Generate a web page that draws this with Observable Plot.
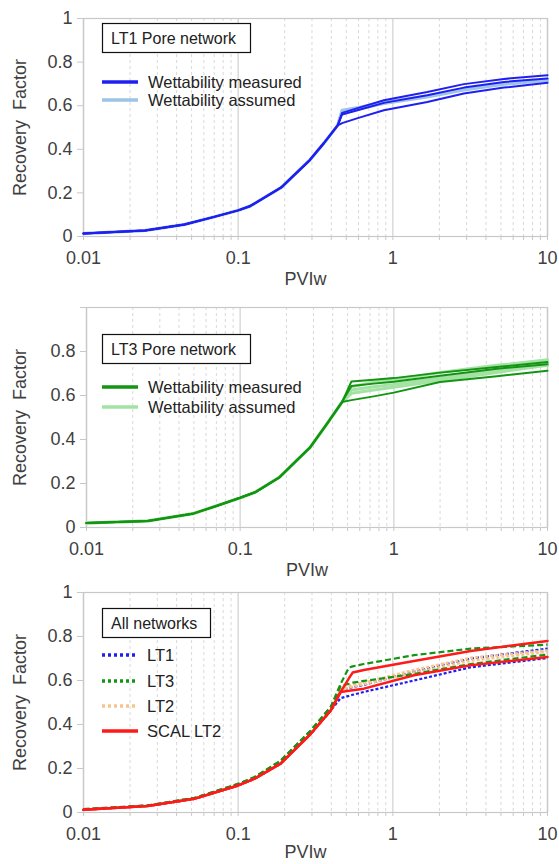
<!DOCTYPE html>
<html><head><meta charset="utf-8">
<script src="https://cdn.jsdelivr.net/npm/d3@7"></script>
<script src="https://cdn.jsdelivr.net/npm/@observablehq/plot@0.6"></script>
<style>
body{margin:0;background:#fff;font-family:"Liberation Sans",Arial,sans-serif;}
.panel{position:relative;width:559px;overflow:visible;}
.panel svg{overflow:visible;}
.panel svg.leg{position:absolute;left:0;top:0;pointer-events:none;}
</style></head><body><div id="root"></div>
<script>
// ---------- axis definitions ----------
const xMajor = [0.01, 0.1, 1, 10];
const xTickLabels = ["0.01", "0.1", "1", "10"];
const yTicks = [0, 0.2, 0.4, 0.6, 0.8, 1];
const yTickLabels = ["0", "0.2", "0.4", "0.6", "0.8", "1"];
const xLabel = "PVIw";
const yLabel = "Recovery  Factor";

// ---------- Panel 1: LT1 pore network ----------
const pviLT1 = [0.01, 0.025, 0.045, 0.07, 0.1, 0.12, 0.19, 0.29, 0.36, 0.44, 0.47, 0.6, 0.875, 1.67, 2.88, 5.23, 10];
const lt1Measured = [
  [0.014, 0.028, 0.055, 0.09, 0.12, 0.14, 0.225, 0.35, 0.43, 0.51, 0.52, 0.544, 0.579, 0.617, 0.656, 0.683, 0.705],
  [0.014, 0.028, 0.055, 0.09, 0.12, 0.14, 0.225, 0.35, 0.43, 0.51, 0.56, 0.58, 0.613, 0.648, 0.683, 0.709, 0.725],
  [0.014, 0.028, 0.055, 0.09, 0.12, 0.14, 0.225, 0.35, 0.43, 0.51, 0.567, 0.59, 0.625, 0.663, 0.699, 0.723, 0.74]
];
const lt1Assumed = [
  [0.014, 0.028, 0.055, 0.09, 0.12, 0.14, 0.225, 0.35, 0.43, 0.51, 0.579, 0.592, 0.617, 0.645, 0.678, 0.703, 0.72],
  [0.014, 0.028, 0.055, 0.09, 0.12, 0.14, 0.225, 0.35, 0.43, 0.51, 0.575, 0.585, 0.61, 0.64, 0.672, 0.698, 0.715]
];

// ---------- Panel 2: LT3 pore network ----------
const pviLT3 = [0.01, 0.025, 0.05, 0.07, 0.1, 0.125, 0.18, 0.286, 0.367, 0.46, 0.53, 0.74, 1.0, 2.0, 4.68, 10];
const lt3Measured = [
  [0.02, 0.03, 0.064, 0.098, 0.135, 0.16, 0.228, 0.365, 0.471, 0.57, 0.579, 0.596, 0.613, 0.661, 0.688, 0.713],
  [0.02, 0.03, 0.064, 0.098, 0.135, 0.16, 0.228, 0.365, 0.471, 0.57, 0.643, 0.654, 0.662, 0.69, 0.722, 0.742],
  [0.02, 0.03, 0.064, 0.098, 0.135, 0.16, 0.228, 0.365, 0.471, 0.57, 0.664, 0.672, 0.679, 0.704, 0.729, 0.752]
];
const lt3Assumed = [
  [0.02, 0.03, 0.064, 0.098, 0.135, 0.16, 0.228, 0.365, 0.471, 0.57, 0.64, 0.66, 0.672, 0.705, 0.737, 0.762],
  [0.02, 0.03, 0.064, 0.098, 0.135, 0.16, 0.228, 0.365, 0.471, 0.57, 0.625, 0.64, 0.65, 0.68, 0.715, 0.745],
  [0.02, 0.03, 0.064, 0.098, 0.135, 0.16, 0.228, 0.365, 0.471, 0.57, 0.61, 0.625, 0.637, 0.668, 0.705, 0.737]
];

// ---------- Panel 3: all networks ----------
const pviAll = [0.01, 0.026, 0.052, 0.07, 0.1, 0.127, 0.188, 0.295, 0.397, 0.46, 0.52, 0.55, 0.65, 1.37, 3.19, 10];
const allLT1 = [
  [0.012, 0.03, 0.062, 0.09, 0.123, 0.153, 0.222, 0.358, 0.464, 0.556, 0.565, 0.57, 0.58, 0.64, 0.7, 0.745],
  [0.012, 0.03, 0.062, 0.09, 0.123, 0.153, 0.222, 0.358, 0.464, 0.52, 0.53, 0.535, 0.548, 0.6, 0.66, 0.702]
];
const allLT3 = [
  [0.015, 0.032, 0.066, 0.095, 0.13, 0.16, 0.235, 0.373, 0.48, 0.585, 0.659, 0.664, 0.675, 0.715, 0.745, 0.763],
  [0.015, 0.032, 0.066, 0.095, 0.13, 0.16, 0.235, 0.373, 0.48, 0.575, 0.585, 0.59, 0.598, 0.63, 0.675, 0.718]
];
const allLT2 = [
  [0.012, 0.03, 0.062, 0.09, 0.123, 0.153, 0.222, 0.358, 0.464, 0.56, 0.575, 0.58, 0.59, 0.648, 0.703, 0.737],
  [0.012, 0.03, 0.062, 0.09, 0.123, 0.153, 0.222, 0.358, 0.464, 0.555, 0.568, 0.572, 0.583, 0.636, 0.69, 0.73]
];
const allSCAL = [
  [0.012, 0.03, 0.062, 0.09, 0.123, 0.153, 0.222, 0.358, 0.464, 0.548, 0.61, 0.636, 0.648, 0.689, 0.734, 0.78],
  [0.012, 0.03, 0.062, 0.09, 0.123, 0.153, 0.222, 0.358, 0.464, 0.548, 0.553, 0.556, 0.563, 0.624, 0.669, 0.707]
];

// ---------- colours ----------
const C = {
  blue: "#1f1ff2", lightBlue: "#9dc3e6",
  green: "#139413", lightGreen: "#a3e2a3",
  red: "#ff1a1a", orange: "#f8c48e",
  grid: "#d9d9d9", axis: "#c8c8c8", text: "#404040"
};
const FONT = '"Liberation Sans", Arial, sans-serif';

const xMinor = xMajor.slice(0, 3).flatMap(m => [2,3,4,5,6,7,8,9].map(k => +(m * k).toPrecision(6)));
const xAll = [...xMajor, ...xMinor];

function panel(cfg) {
  const {xs, groups, H, mL, mT, mB, yLabels, xLabDy} = cfg;
  const mR = 12;
  const lineMarks = [];
  for (const g of groups) {
    g.values.forEach(vals => {
      const d = vals.map((v, i) => ({x: xs[i], y: v}));
      lineMarks.push(Plot.line(d, {x: "x", y: "y", stroke: g.stroke, strokeWidth: g.width,
        strokeDasharray: g.dash || null, strokeLinejoin: "round", strokeLinecap: g.dash ? "butt" : "round"}));
    });
  }
  const svg = Plot.plot({
    width: 559, height: H,
    marginLeft: mL, marginRight: mR, marginTop: mT, marginBottom: mB,
    x: {type: "log", domain: [0.01, 10]},
    y: {domain: [0, 1]},
    style: {fontFamily: FONT, fontSize: "18px", color: C.text, background: "transparent", overflow: "visible"},
    marks: [
      Plot.ruleX(xMinor, {stroke: C.grid, strokeDasharray: "3,3", strokeWidth: 1}),
      Plot.ruleX(xMajor, {stroke: C.grid, strokeWidth: 1.5}),
      Plot.frame({stroke: C.axis, strokeWidth: 1.2}),
      Plot.axisX({ticks: xAll, tickSize: 4, tickPadding: 11, stroke: C.axis, fill: C.text, label: null,
        tickFormat: d => { const i = xMajor.findIndex(m => Math.abs(m - d) / m < 1e-6); return i >= 0 ? xTickLabels[i] : ""; }}),
      Plot.axisY({ticks: yTicks, tickSize: 6, tickPadding: 5, stroke: C.axis, fill: C.text, label: null,
        tickFormat: d => yLabels[yTicks.findIndex(t => Math.abs(t - d) < 1e-9)]}),
      Plot.text([yLabel], {text: d => d, frameAnchor: "left", dx: -(mL - 20), rotate: -90,
        textAnchor: "middle", lineAnchor: "middle", fill: C.text, fontSize: 18}),
      Plot.text([xLabel], {text: d => d, frameAnchor: "bottom", dx: -10, dy: xLabDy,
        textAnchor: "middle", lineAnchor: "middle", fill: C.text, fontSize: 18}),
      ...lineMarks
    ]
  });
  const wrap = document.createElement("div");
  wrap.className = "panel";
  wrap.style.height = H + "px";
  wrap.appendChild(svg);
  // legend overlay
  const ns = "http://www.w3.org/2000/svg";
  const leg = document.createElementNS(ns, "svg");
  leg.setAttribute("class", "leg");
  leg.setAttribute("width", 559); leg.setAttribute("height", H);
  const L = cfg.legend;
  const box = document.createElementNS(ns, "rect");
  box.setAttribute("x", 102.5); box.setAttribute("y", L.boxY + 0.5);
  box.setAttribute("width", L.boxW); box.setAttribute("height", 29);
  box.setAttribute("fill", "#fff"); box.setAttribute("stroke", "#111"); box.setAttribute("stroke-width", 1.2);
  leg.appendChild(box);
  const t = document.createElementNS(ns, "text");
  t.setAttribute("x", 111); t.setAttribute("y", L.boxY + 15); t.setAttribute("dy", "0.35em");
  t.setAttribute("font-family", FONT); t.setAttribute("font-size", 16); t.setAttribute("fill", "#222");
  t.textContent = L.title; leg.appendChild(t);
  L.items.forEach(it => {
    const ln = document.createElementNS(ns, "line");
    ln.setAttribute("x1", 102); ln.setAttribute("x2", 138);
    ln.setAttribute("y1", it.y); ln.setAttribute("y2", it.y);
    ln.setAttribute("stroke", it.stroke); ln.setAttribute("stroke-width", 3.5);
    if (it.dash) ln.setAttribute("stroke-dasharray", it.dash);
    leg.appendChild(ln);
    const tx = document.createElementNS(ns, "text");
    tx.setAttribute("x", L.textX); tx.setAttribute("y", it.y); tx.setAttribute("dy", "0.35em");
    tx.setAttribute("font-family", FONT); tx.setAttribute("font-size", 16.5); tx.setAttribute("fill", "#222");
    tx.textContent = it.label; leg.appendChild(tx);
  });
  wrap.appendChild(leg);
  document.getElementById("root").appendChild(wrap);
}

panel({
  xs: pviLT1, H: 290, mL: 83, mT: 18, mB: 54, xLabDy: 43, yLabels: yTickLabels,
  groups: [
    {values: lt1Assumed, stroke: C.lightBlue, width: 3},
    {values: lt1Measured, stroke: C.blue, width: 2}
  ],
  legend: {boxY: 23, boxW: 148, title: "LT1 Pore network", textX: 148, items: [
    {y: 82, stroke: C.blue, label: "Wettability measured"},
    {y: 100, stroke: C.lightBlue, label: "Wettability assumed"}
  ]}
});

panel({
  xs: pviLT3, H: 290, mL: 86, mT: 17, mB: 53, xLabDy: 43, yLabels: ["0", "0.2", "0.4", "0.6", "0.8", ""],
  groups: [
    {values: lt3Assumed, stroke: C.lightGreen, width: 3},
    {values: lt3Measured, stroke: C.green, width: 2}
  ],
  legend: {boxY: 44, boxW: 148, title: "LT3 Pore network", textX: 148, items: [
    {y: 97, stroke: C.green, label: "Wettability measured"},
    {y: 117, stroke: C.lightGreen, label: "Wettability assumed"}
  ]}
});

panel({
  xs: pviAll, H: 284, mL: 83, mT: 12, mB: 52, xLabDy: 40, yLabels: yTickLabels,
  groups: [
    {values: allLT1, stroke: C.blue, width: 2.2, dash: "3,2"},
    {values: allLT2, stroke: C.orange, width: 2.5, dash: "3,2"},
    {values: allLT3, stroke: C.green, width: 2.2, dash: "6,3"},
    {values: allSCAL, stroke: C.red, width: 2.5}
  ],
  legend: {boxY: 28, boxW: 108, title: "All networks", textX: 147, items: [
    {y: 75, stroke: C.blue, dash: "3,3", label: "LT1"},
    {y: 101, stroke: C.green, dash: "3,3", label: "LT3"},
    {y: 126, stroke: C.orange, dash: "3,3", label: "LT2"},
    {y: 151, stroke: C.red, label: "SCAL LT2"}
  ]}
});
</script></body></html>
